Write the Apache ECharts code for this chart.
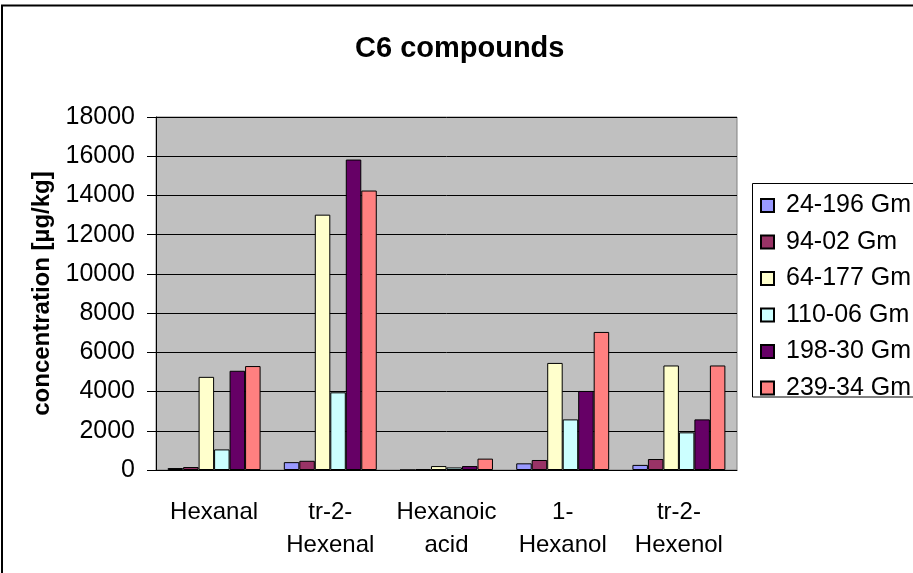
<!DOCTYPE html>
<html>
<head>
<meta charset="utf-8">
<script src="https://cdn.jsdelivr.net/npm/echarts@6/dist/echarts.min.js"></script>
<style>
  html, body { margin: 0; padding: 0; background: #fff; }
  #c6Chart { width: 913px; height: 573px; }
</style>
</head>
<body>
<div id="c6Chart"></div>
<script>
const categories = ["Hexanal", "tr-2-\nHexenal", "Hexanoic\nacid", "1-\nHexanol", "tr-2-\nHexenol"];
const seriesNames = ["24-196 Gm", "94-02 Gm", "64-177 Gm", "110-06 Gm", "198-30 Gm", "239-34 Gm"];
const gm24_196 = [100, 400, 0, 340, 260];
const gm94_02 = [150, 470, 40, 510, 560];
const gm64_177 = [4750, 13020, 200, 5460, 5330];
const gm110_06 = [1050, 3960, 130, 2580, 1920];
const gm198_30 = [5060, 15830, 200, 4030, 2580];
const gm239_34 = [5300, 14250, 580, 7040, 5330];
const yTicks = [0, 2000, 4000, 6000, 8000, 10000, 12000, 14000, 16000, 18000];

const seriesData = [gm24_196, gm94_02, gm64_177, gm110_06, gm198_30, gm239_34];
const colors = ["#9999FF", "#993366", "#FFFFCC", "#CCFFFF", "#660066", "#FF8080"];
const font = "Arial, 'Liberation Sans', sans-serif";

let c6Chart = echarts.init(document.getElementById("c6Chart"));
c6Chart.setOption({
  animation: false,
  backgroundColor: "#fff",
  title: {
    text: "C6 compounds",
    left: 350,
    top: 29,
    textStyle: { fontFamily: font, fontSize: 29, fontWeight: "bold", color: "#000" }
  },
  graphic: [
    // outer chart frame (right/bottom edges fall outside the picture)
    { type: "rect", shape: { x: 2, y: 5.5, width: 1000, height: 1000 }, style: { fill: null, stroke: "#000", lineWidth: 2 } },
    // legend frame
    { type: "rect", shape: { x: 752.5, y: 183.5, width: 300, height: 213.5 }, style: { fill: null, stroke: "#000", lineWidth: 1 } }
  ],
  legend: {
    data: seriesNames,
    orient: "vertical",
    left: 760,
    top: 193,
    padding: 0,
    itemWidth: 13,
    itemHeight: 13,
    itemGap: 11.5,
    icon: "rect",
    textStyle: { fontFamily: font, fontSize: 25, lineHeight: 25, color: "#000", padding: [0, 0, 0, 7] }
  },
  grid: {
    left: 156,
    right: 176,
    top: 117,
    bottom: 103,
    show: true,
    backgroundColor: "#C0C0C0",
    borderColor: "#808080",
    borderWidth: 1
  },
  xAxis: {
    type: "category",
    data: categories,
    boundaryGap: true,
    axisLine: { lineStyle: { color: "#000", width: 1 } },
    axisTick: { length: 8, lineStyle: { color: "#000" } },
    axisLabel: { fontFamily: font, fontSize: 24, lineHeight: 33, color: "#000", margin: 26, interval: 0 }
  },
  yAxis: {
    type: "value",
    min: yTicks[0],
    max: yTicks[yTicks.length - 1],
    interval: yTicks[1] - yTicks[0],
    name: "concentration [µg/kg]",
    nameLocation: "middle",
    nameGap: 102,
    nameTextStyle: { fontFamily: font, fontSize: 24, fontWeight: "bold", color: "#000" },
    axisLine: { show: true, lineStyle: { color: "#000", width: 1 } },
    axisTick: { show: true, length: 9, lineStyle: { color: "#000" } },
    axisLabel: { fontFamily: font, fontSize: 25, color: "#000", margin: 21, formatter: (v) => String(v) },
    splitLine: { show: true, lineStyle: { color: "#000", width: 1 } }
  },
  series: seriesNames.map((name, i) => ({
    name: name,
    type: "bar",
    data: seriesData[i],
    barGap: "0%",
    barCategoryGap: "20%",
    itemStyle: { color: colors[i], borderColor: "#000", borderWidth: 1 }
  }))
});
</script>
</body>
</html>
